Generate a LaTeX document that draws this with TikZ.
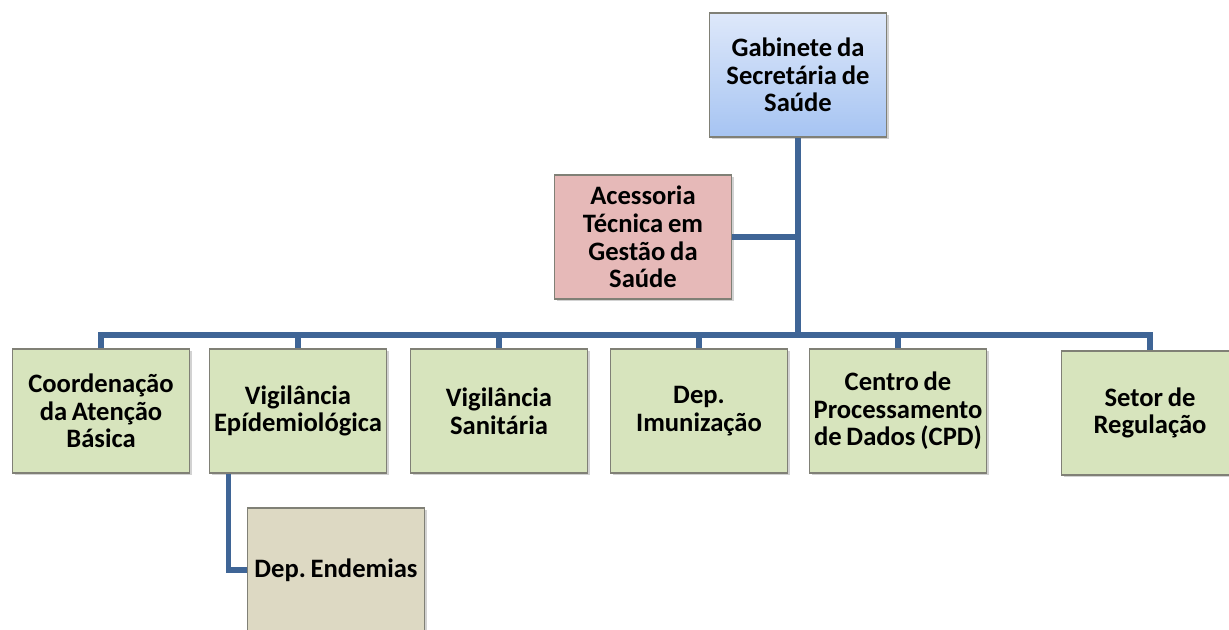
\documentclass[tikz,border=0pt]{standalone}
\usepackage{fontspec}
\setmainfont{Carlito}[WordSpace=0.8]
\usetikzlibrary{shadows}
\definecolor{linkblue}{RGB}{63,101,150}
\definecolor{gabtop}{RGB}{222,232,250}
\definecolor{gabbot}{RGB}{166,196,242}
\definecolor{pinkfill}{RGB}{230,185,184}
\definecolor{greenfill}{RGB}{215,228,189}
\definecolor{tanfill}{RGB}{221,217,195}
\definecolor{boxgray}{RGB}{128,128,118}

\tikzset{
  unitbox/.style={draw=boxgray, line width=0.8pt, minimum width=88.5pt, minimum height=62pt,
    inner xsep=0pt, align=center,
    font=\frenchspacing\bfseries\fontsize{13.3}{13.8}\selectfont,
    drop shadow={shadow xshift=1pt, shadow yshift=-1.2pt, opacity=0.35}},
  link/.style={draw=linkblue, line width=2.6pt}
}

\begin{document}
\begin{tikzpicture}[x=0.5pt,y=-0.5pt]
        \useasboundingbox (0,0) rectangle (1229,629);
        \clip (0,0) rectangle (1229,629);
        \fill[white] (0,0) rectangle (1229,629);

        % Top level
        \node[unitbox, top color=gabtop, bottom color=gabbot] (gab) at (798,75) {Gabinete da\\Secretária de\\Saúde};
        \node[unitbox, fill=pinkfill] (aces) at (643,237) {Acessoria\\Técnica em\\Gestão da\\Saúde};

        % Departments
        \node[unitbox, fill=greenfill] (coord) at (101,411) {Coordenação\\da Atenção\\Básica};
        \node[unitbox, fill=greenfill] (vepid) at (298,411) {Vigilância\\Epídemiológica};
        \node[unitbox, fill=greenfill] (vsan) at (499,411) {Vigilância\\Sanitária};
        \node[unitbox, fill=greenfill] (imun) at (699,411) {Dep.\\Imunização};
        \node[unitbox, fill=greenfill] (cpd) at (898,411) {Centro de\\Processamento\\de Dados (CPD)};
        \node[unitbox, fill=greenfill] (setor) at (1150,413) {Setor de\\Regulação};
        \node[unitbox, fill=tanfill] (endem) at (336,570) {Dep. Endemias};

        % Connectors
        \coordinate (bus) at (798,335);
        \draw[link] (gab.south) -- (bus);
        \draw[link] (aces.east) -- (aces.east -| bus);
        \draw[link] (coord.north) |- (bus) -| (setor.north);
        \foreach \n in {vepid,vsan,imun,cpd} {
            \draw[link] (\n.north) -- (\n.north |- bus);
        }
        \draw[link] (vepid.south west) ++(20,0) |- (endem.west);
    \end{tikzpicture}
\end{document}
